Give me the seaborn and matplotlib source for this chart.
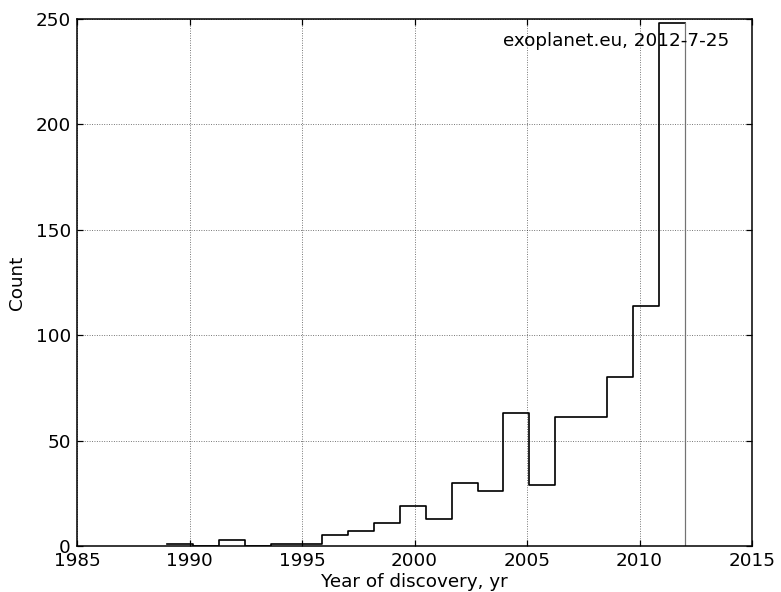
import numpy as np
import pandas as pd
import matplotlib
matplotlib.use("Agg")
import matplotlib.pyplot as plt
import seaborn as sns

# Data (20 bins from 1989 to 2012)
first_year = 1989
last_year = 2012
n_bins = 20
bin_counts = [1, 0, 3, 0, 1, 1, 5, 7, 11, 19, 13, 30, 26, 63, 29, 61, 61, 80, 114, 248]
x_ticks = [1985, 1990, 1995, 2000, 2005, 2010, 2015]
y_ticks = [0, 50, 100, 150, 200, 250]
annotation = "exoplanet.eu, 2012-7-25"

edges = np.linspace(first_year, last_year, n_bins + 1)
centers = (edges[:-1] + edges[1:]) / 2
df = pd.DataFrame({"year": centers, "count": bin_counts})

DPI = 110
plt.rcParams.update({
    "font.family": ["DejaVu Sans"],
    "font.size": 12,
    "xtick.direction": "in",
    "ytick.direction": "in",
    "xtick.top": True,
    "ytick.right": True,
    "xtick.major.size": 4,
    "ytick.major.size": 4,
    "xtick.major.pad": 4,
    "ytick.major.pad": 4,
    "axes.linewidth": 1.0,
    "figure.facecolor": "white",
    "axes.facecolor": "white",
})

fig = plt.figure(figsize=(781 / DPI, 592 / DPI), dpi=DPI)
ax = fig.add_axes([77 / 781, 46 / 592, 675 / 781, 527 / 592])

sns.histplot(data=df, x="year", weights="count", bins=n_bins,
             binrange=(first_year, last_year), element="step", fill=False,
             color="black", linewidth=1.1, ax=ax)
# closing edge of the last step back to zero
ax.plot([edges[-1], edges[-1]], [0, bin_counts[-1]], color="0.45", linewidth=0.8)

ax.set_xlim(1985, 2015)
ax.set_ylim(0, 250)
ax.set_xticks(x_ticks)
ax.set_yticks(y_ticks)
ax.grid(True, linestyle=":", color="black", linewidth=0.6, alpha=0.6)
ax.set_xlabel("Year of discovery, yr", fontsize=12, labelpad=2)
ax.set_ylabel("Count", fontsize=12, labelpad=6)
for s in ax.spines.values():
    s.set_color("black")
ax.text(0.966, 0.958, annotation, transform=ax.transAxes, ha="right",
        va="center", fontsize=12)

fig.savefig("out.png", dpi=DPI)
